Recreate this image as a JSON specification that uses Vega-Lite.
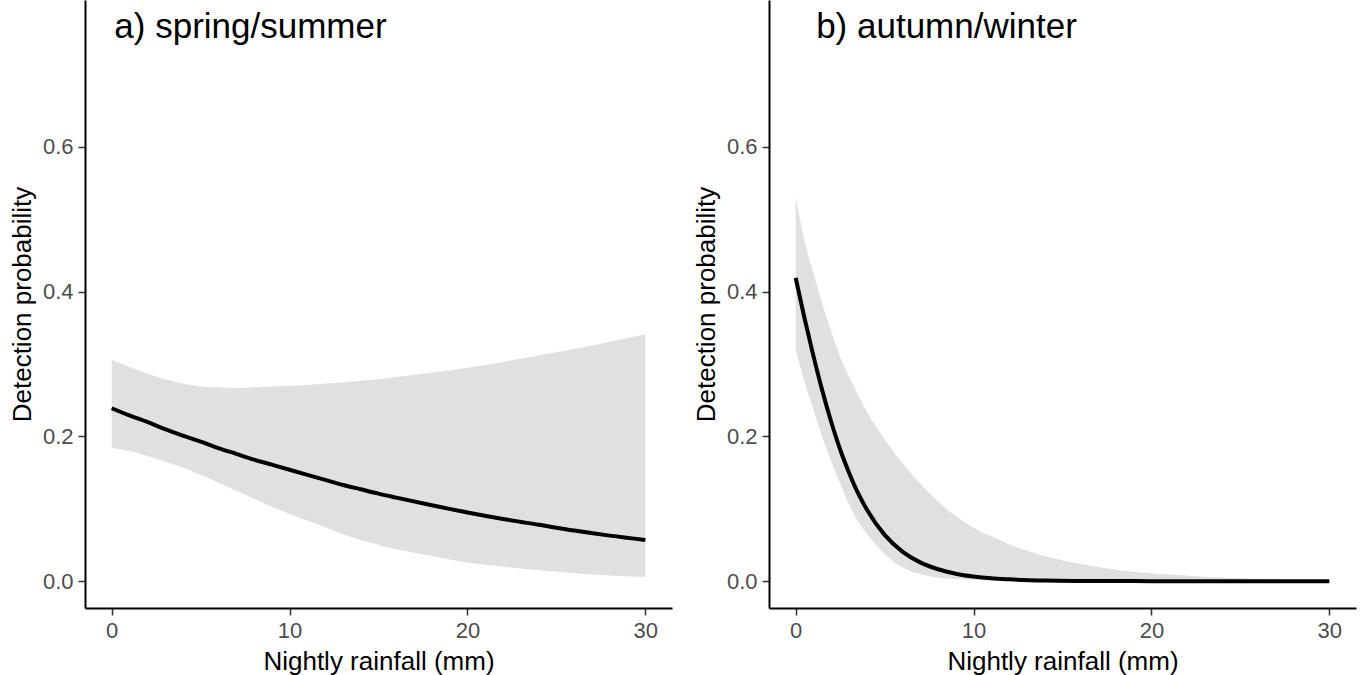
{
  "$schema": "https://vega.github.io/schema/vega-lite/v6.json",
  "padding": {"left": 9, "top": 0, "right": 6, "bottom": 2},
  "spacing": 21,
  "background": "white",
  "datasets": {
    "spring": [
      {"x": 0, "p": 0.239, "lo": 0.184, "hi": 0.306},
      {"x": 1, "p": 0.229, "lo": 0.180, "hi": 0.296},
      {"x": 2, "p": 0.220, "lo": 0.173, "hi": 0.287},
      {"x": 3, "p": 0.210, "lo": 0.165, "hi": 0.279},
      {"x": 4, "p": 0.201, "lo": 0.157, "hi": 0.273},
      {"x": 5, "p": 0.193, "lo": 0.147, "hi": 0.269},
      {"x": 6, "p": 0.184, "lo": 0.136, "hi": 0.268},
      {"x": 7, "p": 0.176, "lo": 0.125, "hi": 0.267},
      {"x": 8, "p": 0.168, "lo": 0.114, "hi": 0.268},
      {"x": 9, "p": 0.161, "lo": 0.103, "hi": 0.269},
      {"x": 10, "p": 0.154, "lo": 0.093, "hi": 0.270},
      {"x": 11, "p": 0.147, "lo": 0.084, "hi": 0.271},
      {"x": 12, "p": 0.140, "lo": 0.075, "hi": 0.273},
      {"x": 13, "p": 0.133, "lo": 0.065, "hi": 0.275},
      {"x": 14, "p": 0.127, "lo": 0.057, "hi": 0.277},
      {"x": 15, "p": 0.121, "lo": 0.050, "hi": 0.279},
      {"x": 16, "p": 0.1155, "lo": 0.044, "hi": 0.282},
      {"x": 18, "p": 0.105, "lo": 0.035, "hi": 0.288},
      {"x": 20, "p": 0.095, "lo": 0.026, "hi": 0.295},
      {"x": 22, "p": 0.086, "lo": 0.020, "hi": 0.303},
      {"x": 24, "p": 0.078, "lo": 0.015, "hi": 0.312},
      {"x": 26, "p": 0.070, "lo": 0.011, "hi": 0.321},
      {"x": 28, "p": 0.063, "lo": 0.008, "hi": 0.331},
      {"x": 30, "p": 0.057, "lo": 0.006, "hi": 0.341}
    ],
    "autumn": [
      {"x": 0, "p": 0.419, "lo": 0.320, "hi": 0.530},
      {"x": 0.5, "p": 0.363, "lo": 0.275, "hi": 0.470},
      {"x": 1, "p": 0.311, "lo": 0.237, "hi": 0.425},
      {"x": 1.5, "p": 0.263, "lo": 0.199, "hi": 0.383},
      {"x": 2, "p": 0.220, "lo": 0.165, "hi": 0.345},
      {"x": 2.5, "p": 0.182, "lo": 0.135, "hi": 0.310},
      {"x": 3, "p": 0.150, "lo": 0.106, "hi": 0.283},
      {"x": 3.5, "p": 0.122, "lo": 0.083, "hi": 0.258},
      {"x": 4, "p": 0.099, "lo": 0.066, "hi": 0.234},
      {"x": 5, "p": 0.064, "lo": 0.038, "hi": 0.196},
      {"x": 6, "p": 0.041, "lo": 0.019, "hi": 0.163},
      {"x": 7, "p": 0.026, "lo": 0.010, "hi": 0.135},
      {"x": 8, "p": 0.0165, "lo": 0.005, "hi": 0.110},
      {"x": 9, "p": 0.0104, "lo": 0.003, "hi": 0.090},
      {"x": 10, "p": 0.0065, "lo": 0.002, "hi": 0.074},
      {"x": 11, "p": 0.004, "lo": 0.001, "hi": 0.062},
      {"x": 12, "p": 0.0026, "lo": 0.001, "hi": 0.051},
      {"x": 14, "p": 0.001, "lo": 0.0, "hi": 0.035},
      {"x": 16, "p": 0.0004, "lo": 0.0, "hi": 0.024},
      {"x": 18, "p": 0.0002, "lo": 0.0, "hi": 0.016},
      {"x": 20, "p": 0.0001, "lo": 0.0, "hi": 0.011},
      {"x": 22, "p": 0.0, "lo": 0.0, "hi": 0.008},
      {"x": 24, "p": 0.0, "lo": 0.0, "hi": 0.005},
      {"x": 26, "p": 0.0, "lo": 0.0, "hi": 0.003},
      {"x": 28, "p": 0.0, "lo": 0.0, "hi": 0.002},
      {"x": 30, "p": 0.0, "lo": 0.0, "hi": 0.001}
    ]
  },
  "config": {
    "view": {"stroke": null},
    "font": "Liberation Sans",
    "axis": {
      "grid": false,
      "domainColor": "black",
      "domainWidth": 2,
      "tickColor": "#333333",
      "tickWidth": 1.5,
      "tickSize": 7,
      "labelFont": "Liberation Sans",
      "labelFontSize": 22,
      "labelColor": "#4d4d4d",
      "labelPadding": 5,
      "titleFont": "Liberation Sans",
      "titleFontSize": 26,
      "titleFontWeight": "normal",
      "titleColor": "black",
      "titlePadding": 7
    }
  },
  "hconcat": [
    {
      "width": 587,
      "height": 608,
      "layer": [
        {
          "data": {"name": "spring"},
          "mark": {"type": "area", "color": "#e0e0e0", "interpolate": "monotone"},
          "encoding": {
            "x": {"field": "x", "type": "quantitative", "scale": {"domain": [-1.5, 31.5], "nice": false, "zero": false}, "axis": {"values": [0, 10, 20, 30], "title": "Nightly rainfall (mm)"}},
            "y": {"field": "lo", "type": "quantitative", "scale": {"domain": [-0.037, 0.803], "nice": false, "zero": false}, "axis": {"values": [0, 0.2, 0.4, 0.6], "format": ".1f", "title": "Detection probability"}},
            "y2": {"field": "hi"}
          }
        },
        {
          "data": {"name": "spring"},
          "mark": {"type": "line", "color": "black", "strokeWidth": 4, "interpolate": "monotone"},
          "encoding": {
            "x": {"field": "x", "type": "quantitative"},
            "y": {"field": "p", "type": "quantitative"}
          }
        },
        {
          "data": {"values": [{"label": "a) spring/summer"}]},
          "mark": {"type": "text", "align": "left", "baseline": "alphabetic", "fontSize": 35, "fontWeight": "normal", "fill": "black", "font": "Liberation Sans"},
          "encoding": {
            "x": {"datum": 0.15},
            "y": {"datum": 0.75},
            "text": {"field": "label"}
          }
        }
      ]
    },
    {
      "width": 587,
      "height": 608,
      "layer": [
        {
          "data": {"name": "autumn"},
          "mark": {"type": "area", "color": "#e0e0e0", "interpolate": "monotone"},
          "encoding": {
            "x": {"field": "x", "type": "quantitative", "scale": {"domain": [-1.5, 31.5], "nice": false, "zero": false}, "axis": {"values": [0, 10, 20, 30], "title": "Nightly rainfall (mm)"}},
            "y": {"field": "lo", "type": "quantitative", "scale": {"domain": [-0.037, 0.803], "nice": false, "zero": false}, "axis": {"values": [0, 0.2, 0.4, 0.6], "format": ".1f", "title": "Detection probability"}},
            "y2": {"field": "hi"}
          }
        },
        {
          "data": {"name": "autumn"},
          "mark": {"type": "line", "color": "black", "strokeWidth": 4, "interpolate": "monotone"},
          "encoding": {
            "x": {"field": "x", "type": "quantitative"},
            "y": {"field": "p", "type": "quantitative"}
          }
        },
        {
          "data": {"values": [{"label": "b) autumn/winter"}]},
          "mark": {"type": "text", "align": "left", "baseline": "alphabetic", "fontSize": 35, "fontWeight": "normal", "fill": "black", "font": "Liberation Sans"},
          "encoding": {
            "x": {"datum": 1.15},
            "y": {"datum": 0.75},
            "text": {"field": "label"}
          }
        }
      ]
    }
  ]
}
